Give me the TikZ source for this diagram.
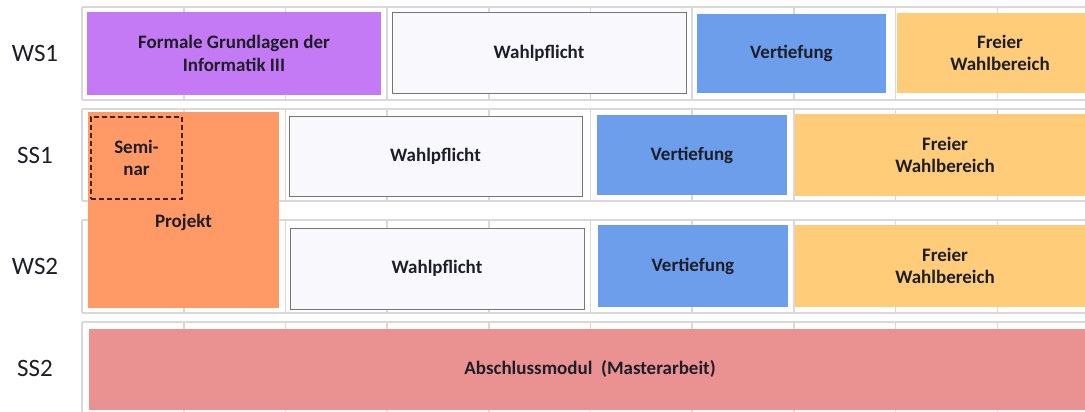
\documentclass[tikz,border=0pt]{standalone}
\usepackage{fontspec}
\setmainfont{Carlito}

\definecolor{lila}{RGB}{197,122,245}
\definecolor{blauvert}{RGB}{109,158,235}
\definecolor{gelbfrei}{RGB}{255,205,122}
\definecolor{orangeprojekt}{RGB}{255,153,102}
\definecolor{rosaabschluss}{RGB}{234,146,146}
\definecolor{weisswahl}{RGB}{249,249,253}
\definecolor{rahmengrau}{RGB}{118,118,118}
\definecolor{gittergrau}{RGB}{217,217,217}
\definecolor{schrift}{RGB}{30,30,40}
\definecolor{seminarrand}{RGB}{70,35,15}

\tikzset{
  gitter/.style={gittergrau, line width=1.6pt},
  modul/.style={anchor=north west, inner sep=0pt, outer sep=0pt, align=center,
    text=schrift, font=\fontsize{19}{22.5}\selectfont\bfseries},
  wahlbox/.style={modul, fill=weisswahl, draw=rahmengrau, line width=1pt},
  semester/.style={text=schrift, font=\fontsize{25}{28}\selectfont}
}

\begin{document}
\begin{tikzpicture}[x=1pt,y=-1pt]
  \useasboundingbox[fill=white] (0,0) rectangle (1085,412);

  % table grid behind the modules
  \foreach \oben/\unten in {7/100,109/201,220/313,322/415} {
    \draw[gitter] (82,\oben) -- (1100,\oben);
    \draw[gitter] (82,\unten) -- (1100,\unten);
    \foreach \k in {0,...,10}
      \draw[gitter] (82+101.7*\k,\oben) -- (82+101.7*\k,\unten);
  }

  % semester labels
  \foreach \name/\ypos in {WS1/53.5,SS1/155,WS2/266.5,SS2/368}
    \node[semester] (\name) at (35,\ypos) {\name};

  % WS1
  \node[modul, fill=lila, minimum width=294pt, minimum height=83pt] (fgi) at (87,12) {Formale Grundlagen der\\Informatik III};
  \node[wahlbox, minimum width=294pt, minimum height=81pt] (wahlA) at (392,13) {Wahlpflicht};
  \node[modul, fill=blauvert, minimum width=189pt, minimum height=79pt] (vertA) at (697,14) {Vertiefung};
  \node[modul, fill=gelbfrei, minimum width=206pt, minimum height=80pt] (freiA) at (897,13) {Freier\\Wahlbereich};

  % SS1 and WS2
  \node[modul, fill=orangeprojekt, minimum width=191pt, minimum height=196pt] (projekt) at (88,112) {};
  \node[modul, anchor=center] (projekttext) at ([yshift=-12pt]projekt.center) {Projekt};
  \node[modul, draw=seminarrand, dashed, dash pattern=on 5pt off 3pt, line width=1.6pt,
    minimum width=91pt, minimum height=82pt] (seminar) at (91,117) {Semi-\\nar};
  \node[wahlbox, minimum width=293pt, minimum height=80pt] (wahlB) at (289,116) {Wahlpflicht};
  \node[modul, fill=blauvert, minimum width=190pt, minimum height=80pt] (vertB) at (597,115) {Vertiefung};
  \node[modul, fill=gelbfrei, minimum width=300pt, minimum height=82pt] (freiB) at (795,114) {Freier\\Wahlbereich};
  \node[wahlbox, minimum width=294pt, minimum height=81pt] (wahlC) at (290,228) {Wahlpflicht};
  \node[modul, fill=blauvert, minimum width=190pt, minimum height=82pt] (vertC) at (598,225) {Vertiefung};
  \node[modul, fill=gelbfrei, minimum width=300pt, minimum height=82pt] (freiC) at (795,225) {Freier\\Wahlbereich};

  % SS2
  \node[modul, fill=rosaabschluss, minimum width=1010pt, minimum height=81pt] (abschluss) at (89,329) {};
  \node[modul, anchor=center] (abschlusstext) at (590,369) {Abschlussmodul\ \ (Masterarbeit)};
\end{tikzpicture}
\end{document}
